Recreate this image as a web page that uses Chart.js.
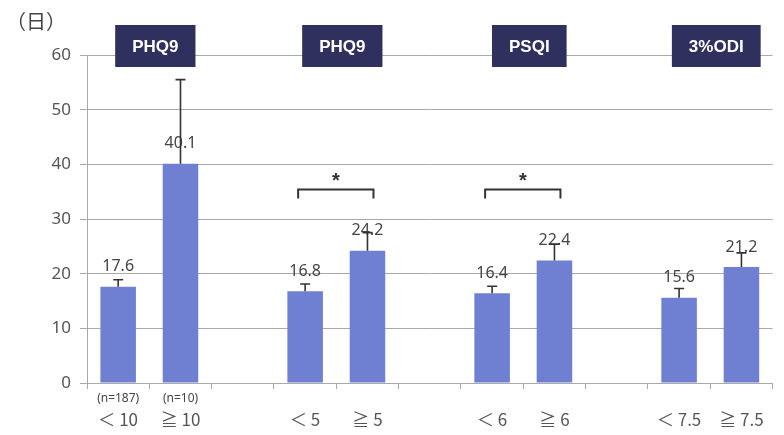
<!DOCTYPE html>
<html>
<head>
<meta charset="utf-8">
<script src="https://cdn.jsdelivr.net/npm/chart.js@4/dist/chart.umd.min.js"></script>
<style>
  html, body { margin: 0; padding: 0; background: #ffffff; }
  #wrap { width: 784px; height: 435px; }
</style>
</head>
<body>
<div id="wrap"><canvas id="c" width="784" height="435"></canvas></div>
<script>
// Category axis: each pair of groups is separated by an empty slot
const categories = ['＜ 10', '≧ 10', '', '＜ 5', '≧ 5', '', '＜ 6', '≧ 6', '', '＜ 7.5', '≧ 7.5'];
// Mean values (days)
const means = [17.6, 40.1, null, 16.8, 24.2, null, 16.4, 22.4, null, 15.6, 21.2];
// Upper end of each error bar (days)
const upperValues = [18.9, 55.5, null, 18.1, 27.5, null, 17.7, 25.4, null, 17.3, 23.8];
// Sample sizes shown under the first pair
const sampleSizes = ['(n=187)', '(n=10)', '', '', '', '', '', '', '', '', ''];
// Group headings, each placed over a pair of bars
const groupNames = ['PHQ9', 'PHQ9', 'PSQI', '3%ODI'];
const groupPairs = [[0, 1], [3, 4], [6, 7], [9, 10]];
// Significance brackets (pairs of bar indices)
const significantPairs = [[3, 4], [6, 7]];
const bracketLevel = 35.4;
const yTicks = [0, 10, 20, 30, 40, 50, 60];

const BAR = '#6F80D3';
const NAVY = '#30305F';
const TEXT = '#444444';
const GRID = '#a9a9a9';

const extras = {
  id: 'extras',
  afterDatasetsDraw(chart) {
    const ctx = chart.ctx;
    const x = chart.scales.x, y = chart.scales.y;
    ctx.save();

    // value labels above each bar
    ctx.font = '16px "Noto Sans", sans-serif';
    ctx.fillStyle = TEXT;
    ctx.textAlign = 'center';
    ctx.textBaseline = 'middle';
    means.forEach((v, i) => {
      if (v == null) return;
      ctx.fillText(v.toFixed(1), x.getPixelForValue(i), y.getPixelForValue(v) - 20);
    });

    // error bars (upper only)
    ctx.strokeStyle = '#3a3030';
    ctx.lineWidth = 1.6;
    upperValues.forEach((u, i) => {
      if (u == null) return;
      const px = x.getPixelForValue(i);
      const top = y.getPixelForValue(u);
      const base = y.getPixelForValue(means[i]);
      ctx.beginPath();
      ctx.moveTo(px, base);
      ctx.lineTo(px, top);
      ctx.moveTo(px - 5, top);
      ctx.lineTo(px + 5, top);
      ctx.stroke();
    });

    // significance brackets
    ctx.strokeStyle = '#333333';
    ctx.lineWidth = 2;
    significantPairs.forEach(([a, b]) => {
      const left = x.getPixelForValue(a) - 7;
      const right = x.getPixelForValue(b) + 6;
      const top = y.getPixelForValue(bracketLevel);
      ctx.beginPath();
      ctx.moveTo(left, top + 9);
      ctx.lineTo(left, top);
      ctx.lineTo(right, top);
      ctx.lineTo(right, top + 9);
      ctx.stroke();
      ctx.fillStyle = '#333333';
      ctx.font = 'bold 20px "Liberation Sans", sans-serif';
      ctx.fillText('*', (left + right) / 2, top - 8);
    });

    // group headings
    ctx.font = 'bold 17px "Liberation Sans", Arial, sans-serif';
    groupNames.forEach((name, g) => {
      const [a, b] = groupPairs[g];
      const cx = (x.getPixelForValue(a) + x.getPixelForValue(b)) / 2 + 6;
      const w = ctx.measureText(name).width + 34;
      const top = y.getPixelForValue(60) - 30;
      ctx.fillStyle = NAVY;
      ctx.fillRect(cx - w / 2, top, w, 42);
      ctx.fillStyle = '#ffffff';
      ctx.fillText(name, cx, top + 22);
    });

    // sample sizes under the axis
    ctx.font = '12px "Noto Sans", sans-serif';
    ctx.fillStyle = TEXT;
    sampleSizes.forEach((s, i) => {
      if (!s) return;
      ctx.fillText(s, x.getPixelForValue(i), y.bottom + 16);
    });

    // unit label
    ctx.font = '20px "Noto Sans CJK JP", sans-serif';
    ctx.textAlign = 'left';
    ctx.fillText('（日）', 6, 21);
    ctx.restore();
  }
};

new Chart(document.getElementById('c'), {
  type: 'bar',
  data: {
    labels: categories,
    datasets: [{
      data: means,
      backgroundColor: BAR,
      borderWidth: 0,
      barPercentage: 0.57,
      categoryPercentage: 1.0
    }]
  },
  options: {
    responsive: false,
    animation: false,
    layout: { padding: { top: 55, right: 8, left: 0, bottom: 0 } },
    plugins: { legend: { display: false }, tooltip: { enabled: false } },
    scales: {
      x: {
        afterFit(s) { s.height = 52; },
        grid: { display: true, drawOnChartArea: false, offset: true, tickLength: 6, color: GRID },
        border: { color: GRID, width: 1 },
        ticks: {
          padding: 20,
          color: '#555555',
          font: { size: 17, family: '"Noto Sans CJK JP", "Noto Sans", sans-serif' }
        }
      },
      y: {
        min: 0,
        max: 60,
        afterFit(s) { s.width = 87; },
        afterBuildTicks(s) { s.ticks = yTicks.map(v => ({ value: v })); },
        grid: { color: GRID, tickLength: 7, lineWidth: 1 },
        border: { color: GRID, width: 1 },
        ticks: {
          padding: 9,
          color: '#555555',
          font: { size: 17, family: '"Noto Sans", sans-serif' }
        }
      }
    }
  },
  plugins: [extras]
});
</script>
</body>
</html>
